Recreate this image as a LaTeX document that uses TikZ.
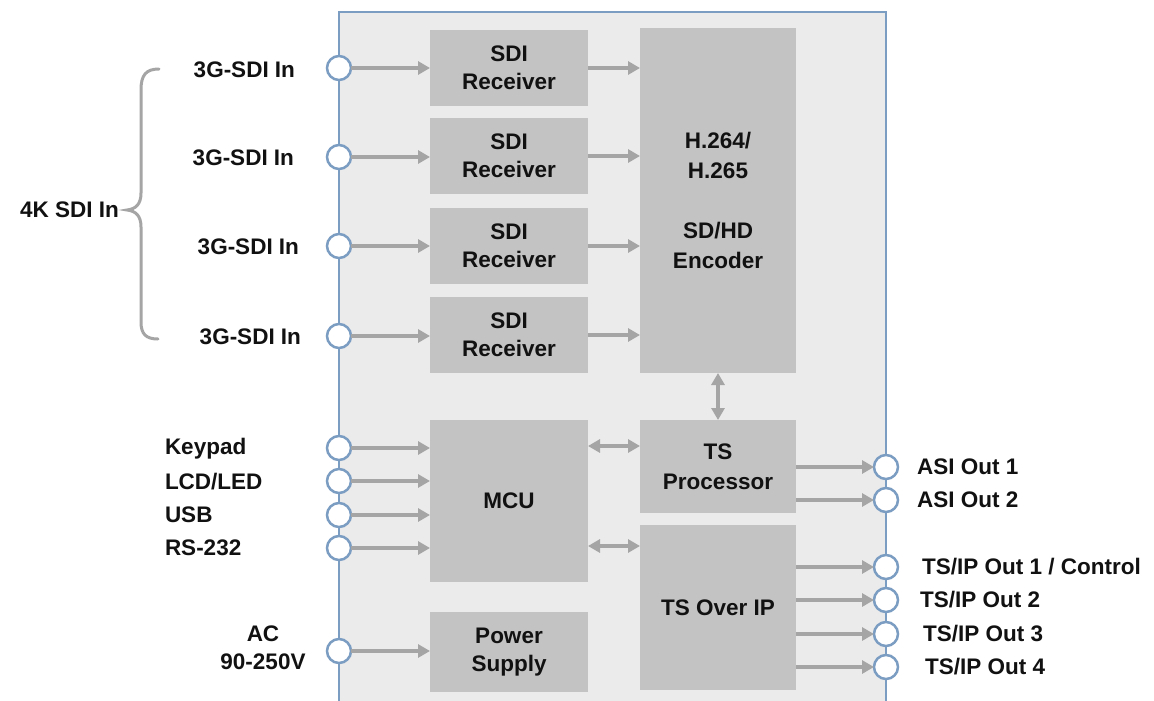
\documentclass[tikz,border=0pt]{standalone}
\usepackage{fontspec}
\setmainfont{Liberation Sans}
\usetikzlibrary{arrows.meta}
\definecolor{bgc}{HTML}{EBEBEB}
\definecolor{boxc}{HTML}{C3C3C3}
\definecolor{arrc}{HTML}{A5A5A5}
\definecolor{edgec}{HTML}{7C9DC2}
\definecolor{txtc}{HTML}{111111}
\begin{document}
\begin{tikzpicture}[x=1pt,y=-1pt,
  every node/.style={font=\bfseries\fontsize{22.5}{28}\selectfont, text=txtc, inner sep=0pt, outer sep=0pt},
  blk/.style={fill=boxc, draw=none, align=center},
  port/.style={circle, draw=edgec, fill=white, line width=2.5pt, minimum size=24pt},
  sig/.style={draw=arrc, line width=4pt, -{Triangle[length=12pt,width=13pt]}},
  bisig/.style={draw=arrc, line width=4pt, {Triangle[length=12pt,width=13pt]}-{Triangle[length=12pt,width=13pt]}},
  lbl/.style={anchor=west}]
\useasboundingbox (0,0) rectangle (1154,701);
% container
\fill[bgc] (339,12) rectangle (886,701);
\draw[edgec, line width=2.5pt] (339,701) -- (339,12) -- (886,12) -- (886,701);

% blocks
\node[blk, minimum width=158pt, minimum height=76pt] (r1) at (509,68) {SDI\\Receiver};
\node[blk, minimum width=158pt, minimum height=76pt] (r2) at (509,156) {SDI\\Receiver};
\node[blk, minimum width=158pt, minimum height=76pt] (r3) at (509,246) {SDI\\Receiver};
\node[blk, minimum width=158pt, minimum height=76pt] (r4) at (509,335) {SDI\\Receiver};
\node[blk, minimum width=156pt, minimum height=345pt, font=\bfseries\fontsize{22.5}{30}\selectfont] (enc) at (718,200.5) {H.264/\\H.265\\[30pt]SD/HD\\Encoder};
\node[blk, minimum width=156pt, minimum height=93pt, font=\bfseries\fontsize{22.5}{30}\selectfont] (tsp) at (718,466.5) {TS\\Processor};
\node[blk, minimum width=156pt, minimum height=165pt] (tsip) at (718,607.5) {TS Over IP};
\node[blk, minimum width=158pt, minimum height=162pt] (mcu) at (509,501) {MCU};
\node[blk, minimum width=158pt, minimum height=80pt] (psu) at (509,652) {Power\\Supply};

% left ports
\node[port] (i1) at (339,68) {};
\node[port] (i2) at (339,157) {};
\node[port] (i3) at (339,246) {};
\node[port] (i4) at (339,336) {};
\node[port] (k1) at (339,448) {};
\node[port] (k2) at (339,481) {};
\node[port] (k3) at (339,515) {};
\node[port] (k4) at (339,548) {};
\node[port] (ac) at (339,651) {};
% right ports
\node[port] (o1) at (886,467) {};
\node[port] (o2) at (886,500) {};
\node[port] (p1) at (886,567) {};
\node[port] (p2) at (886,600) {};
\node[port] (p3) at (886,634) {};
\node[port] (p4) at (886,667) {};

% labels
\node[anchor=east] (l1) at (295,70) {3G-SDI In};
\node[anchor=east] (l2) at (294,158) {3G-SDI In};
\node[anchor=east] (l3) at (299,247) {3G-SDI In};
\node[anchor=east] (l4) at (301,337) {3G-SDI In};
\node[anchor=east] (l4k) at (119,210) {4K SDI In};
\node[lbl] (lk1) at (165,449) {Keypad};
\node[lbl] (lk2) at (165,482) {LCD/LED};
\node[lbl] (lk3) at (165,515) {USB};
\node[lbl] (lk4) at (165,548) {RS-232};
\node[align=center] (lac) at (263,648) {AC\\90-250V};
\node[lbl] (lo1) at (917,467) {ASI Out 1};
\node[lbl] (lo2) at (917,500) {ASI Out 2};
\node[lbl] (lp1) at (922,567) {TS/IP Out 1 / Control};
\node[lbl] (lp2) at (920,600) {TS/IP Out 2};
\node[lbl] (lp3) at (923,634) {TS/IP Out 3};
\node[lbl] (lp4) at (925,667) {TS/IP Out 4};

% brace
\draw[arrc, line width=3pt, line cap=round]
  (159,69) .. controls (146,69) and (141,75) .. (141,90) -- (141,193)
  .. controls (141,204) and (136,209) .. (127,210)
  .. controls (136,211) and (141,216) .. (141,227) -- (141,322)
  .. controls (141,334) and (146,339) .. (158,339);

% arrows
\draw[sig] (i1) -- (r1.west |- i1);
\draw[sig] (i2) -- (r2.west |- i2);
\draw[sig] (i3) -- (r3.west |- i3);
\draw[sig] (i4) -- (r4.west |- i4);
\draw[sig] (r1.east) -- (enc.west |- r1.east);
\draw[sig] (r2.east) -- (enc.west |- r2.east);
\draw[sig] (r3.east) -- (enc.west |- r3.east);
\draw[sig] (r4.east) -- (enc.west |- r4.east);
\draw[sig] (k1) -- (mcu.west |- k1);
\draw[sig] (k2) -- (mcu.west |- k2);
\draw[sig] (k3) -- (mcu.west |- k3);
\draw[sig] (k4) -- (mcu.west |- k4);
\draw[sig] (ac) -- (psu.west |- ac);
\draw[bisig] (enc.south) -- (tsp.north);
\draw[bisig] (mcu.east |- 0,446) -- (tsp.west |- 0,446);
\draw[bisig] (mcu.east |- 0,546) -- (tsip.west |- 0,546);
\draw[sig] (tsp.east |- o1) -- (o1);
\draw[sig] (tsp.east |- o2) -- (o2);
\draw[sig] (tsip.east |- p1) -- (p1);
\draw[sig] (tsip.east |- p2) -- (p2);
\draw[sig] (tsip.east |- p3) -- (p3);
\draw[sig] (tsip.east |- p4) -- (p4);
\end{tikzpicture}
\end{document}
